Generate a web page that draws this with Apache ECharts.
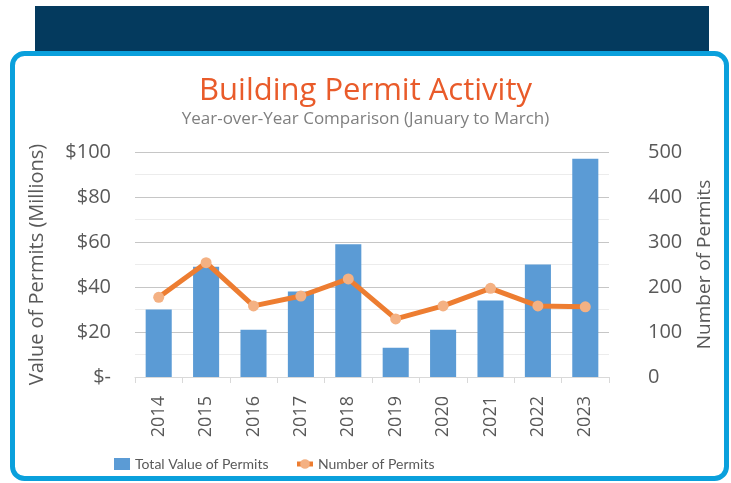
<!DOCTYPE html>
<html><head><meta charset="utf-8">
<script src="https://cdn.jsdelivr.net/npm/echarts@6/dist/echarts.min.js"></script>
<style>html,body{margin:0;padding:0;background:#fff}#c{width:731px;height:483px}</style>
</head><body><div id="c"></div>
<script>
const years = ['2014','2015','2016','2017','2018','2019','2020','2021','2022','2023'];
const totalValue = [30, 49, 21, 38, 59, 13, 21, 34, 50, 97];
const numPermits = [177, 254, 158, 180, 218, 129, 158, 197, 158, 156];
const leftTicks = [0, 20, 40, 60, 80, 100];
const rightTicks = [0, 100, 200, 300, 400, 500];

const FONT = '"Open Sans", "Noto Sans", sans-serif';
const NARROW = 'Lato, "Open Sans", sans-serif';
const chart = echarts.init(document.getElementById('c'));
chart.setOption({
  animation: false,
  backgroundColor: '#fff',
  textStyle: {fontFamily: FONT},
  graphic: [
    {type: 'rect', z: -10, shape: {x: 35, y: 6, width: 674, height: 50}, style: {fill: '#043a5e'}},
    {type: 'rect', z: -9, shape: {x: 12.5, y: 53.5, width: 714, height: 425, r: 12}, style: {fill: '#fff', stroke: '#0aa0dc', lineWidth: 5}}
  ],
  title: {
    text: 'Building Permit Activity',
    subtext: 'Year-over-Year Comparison (January to March)',
    left: 'center', top: 71, itemGap: 4,
    textStyle: {color: '#e95b2a', fontSize: 31, fontWeight: 'normal', fontFamily: FONT},
    subtextStyle: {color: '#7f7f7f', fontSize: 17, fontFamily: FONT}
  },
  legend: {
    top: 452, left: 109, itemGap: 26, itemWidth: 16, itemHeight: 12,
    textStyle: {color: '#595959', fontSize: 14, fontFamily: NARROW},
    data: [
      {name: 'Total Value of Permits', icon: 'rect'},
      {name: 'Number of Permits', lineStyle: {width: 5}}
    ]
  },
  grid: {left: 135, right: 122, top: 152, bottom: 106},
  xAxis: {
    type: 'category', data: years, boundaryGap: true,
    axisLine: {lineStyle: {color: '#d9d9d9'}},
    axisTick: {show: true, length: 6, lineStyle: {color: '#d9d9d9'}},
    axisLabel: {rotate: 90, color: '#595959', fontSize: 18, margin: 19, fontFamily: FONT}
  },
  yAxis: [
    {
      type: 'value', min: 0, max: 100, interval: 20,
      name: 'Value of Permits (Millions)', nameLocation: 'middle', nameGap: 88,
      nameTextStyle: {color: '#595959', fontSize: 20, fontFamily: FONT},
      axisLine: {show: false}, axisTick: {show: false},
      axisLabel: {color: '#595959', fontSize: 20, margin: 24, fontFamily: FONT,
        formatter: v => v === 0 ? '$-' : '$' + v},
      splitLine: {lineStyle: {color: '#c6c6c6', width: 1}},
      minorTick: {show: false, splitNumber: 2},
      minorSplitLine: {show: true, lineStyle: {color: '#ececec', width: 1}}
    },
    {
      type: 'value', min: 0, max: 500, interval: 100,
      name: 'Number of Permits', nameLocation: 'middle', nameGap: 86, nameRotate: 90,
      nameTextStyle: {color: '#595959', fontSize: 19, fontFamily: FONT},
      axisLine: {show: false}, axisTick: {show: false},
      axisLabel: {color: '#595959', fontSize: 20, margin: 39, fontFamily: FONT},
      splitLine: {show: false}
    }
  ],
  series: [
    {
      name: 'Total Value of Permits', type: 'bar', data: totalValue, yAxisIndex: 0,
      barWidth: '55%', itemStyle: {color: '#5b9bd5'}
    },
    {
      name: 'Number of Permits', type: 'line', data: numPermits, yAxisIndex: 1,
      symbol: 'circle', symbolSize: 11,
      lineStyle: {color: '#ed7d31', width: 5},
      itemStyle: {color: '#f4b183', borderWidth: 0}
    }
  ]
});
</script></body></html>
